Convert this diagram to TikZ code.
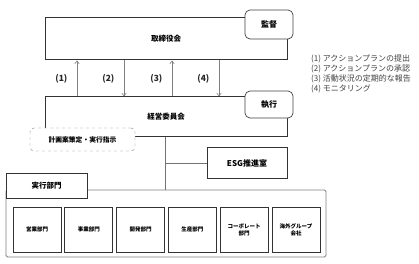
\documentclass[tikz,border=0pt]{standalone}
\usepackage{fontspec}
\usetikzlibrary{arrows.meta}
\newfontfamily\jp{Noto Sans CJK JP}
\tikzset{
  mainbox/.style={draw=black!80, line width=1pt, fill=white, inner sep=0pt,
    font=\jp\bfseries\fontsize{7.5}{9}\selectfont},
  tabbox/.style={draw=black!75, line width=0.7pt, fill=white, rounded corners=5pt,
    minimum width=48pt, inner sep=0pt, font=\jp\bfseries\fontsize{8}{9}\selectfont},
  unitbox/.style={draw=black!80, line width=1pt, fill=white, inner sep=0pt, align=center,
    minimum width=48pt, minimum height=45pt, font=\jp\bfseries\fontsize{5.5}{7}\selectfont},
  flow/.style={-{Straight Barb[length=3pt, width=4.5pt]}, gray, line width=0.6pt},
  link/.style={gray!90!black, line width=0.7pt},
  num/.style={font=\jp\bfseries\fontsize{8.5}{9}\selectfont, text=black!85}
}
\begin{document}
\begin{tikzpicture}[x=1pt, y=-1pt]
    \useasboundingbox (0,0) rectangle (419,264);

    % 取締役会と経営委員会
    \node[mainbox, minimum width=242pt, minimum height=42pt] (board) at (166,39) {取締役会};
    \node[tabbox, minimum height=29pt] (kantoku) at (269,24.5) {監督};
    \node[mainbox, minimum width=242pt, minimum height=40pt] (mgmt) at (166,117) {経営委員会};
    \node[tabbox, minimum height=27pt] (shikko) at (269,104.5) {執行};

    % (1)〜(4) の矢印
    \coordinate (a1) at (77,0);
    \coordinate (a2) at (124,0);
    \coordinate (a3) at (172,0);
    \coordinate (a4) at (219,0);
    \draw[flow] (mgmt.north -| a1) -- node[num, left=6pt] {(1)} (board.south -| a1);
    \draw[flow] (board.south -| a2) -- node[num, left=6pt] {(2)} (mgmt.north -| a2);
    \draw[flow] (mgmt.north -| a3) -- node[num, left=6pt] {(3)} (board.south -| a3);
    \draw[flow] (board.south -| a4) -- node[num, left=6pt] {(4)} (mgmt.north -| a4);

    \node[draw=gray, dashed, fill=white, rounded corners=4pt, minimum width=105pt, minimum height=23pt,
      inner sep=0pt, font=\jp\bfseries\fontsize{6.8}{8}\selectfont] (plan) at (82.5,139.5) {計画案策定・実行指示};

    % 実行部門
    \node[draw=gray, line width=0.8pt, fill=white, rounded corners=1.5pt, minimum width=320pt, minimum height=67pt,
      inner sep=0pt] (outer) at (166,223.5) {};
    \node[mainbox, minimum width=81pt, minimum height=25pt] (exec) at (46.5,185.5) {実行部門};
    \node[mainbox, minimum width=80pt, minimum height=30pt, font=\jp\bfseries\fontsize{8}{9}\selectfont] (esg) at (247,163) {ESG推進室};

    \coordinate (j) at (165,163);
    \draw[link] (mgmt.south -| j) -- (outer.north -| j);
    \draw[link] (j) -- (esg.west);

    \foreach \name/\txt [count=\i] in {u1/営業部門, u2/事業部門, u3/開発部門, u4/生産部門,
        u5/{コーポレート\\部門}, u6/{海外グループ\\会社}}
      \node[unitbox] (\name) at (37+51.8*\i-51.8,229.5) {\txt};

    % 凡例
    \node[anchor=east, align=left, inner sep=0pt, text=black!75,
      font=\jp\fontsize{8}{10.2}\selectfont] (legend) at (411,74)
      {(1) アクションプランの提出\\(2) アクションプランの承認\\(3) 活動状況の定期的な報告\\(4) モニタリング};
\end{tikzpicture}
\end{document}
